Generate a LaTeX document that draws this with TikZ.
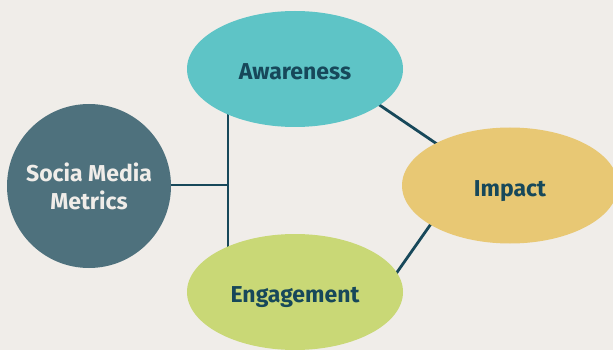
\documentclass[tikz,border=0pt]{standalone}
\usepackage{fontspec}
\setmainfont{Fira Sans}
\usetikzlibrary{shapes.geometric}
\definecolor{bg}{HTML}{F0EDE9}
\definecolor{hub}{HTML}{4E717D}
\definecolor{aware}{HTML}{5EC4C6}
\definecolor{impact}{HTML}{E8C874}
\definecolor{engage}{HTML}{C9D876}
\definecolor{ink}{HTML}{17485A}
\tikzset{
  blob/.style={ellipse, minimum width=216pt, minimum height=116pt, inner sep=0pt, text height=21pt, text depth=0pt, font=\fontsize{23}{26}\selectfont\bfseries, text=ink},
  link/.style={draw=ink, line width=2.8pt},
}
\begin{document}
\begin{tikzpicture}[x=1pt,y=-1pt]
\fill[bg] (0,0) rectangle (613,350);
\useasboundingbox (0,0) rectangle (613,350);
\coordinate (j) at (228,185);
\coordinate (jt) at (228,100);
\coordinate (jb) at (228,260);
\coordinate (ai) at (378,104);
\coordinate (ia) at (437,144);
\coordinate (ie) at (433,221);
\coordinate (ei) at (393,278);
\draw[link] (89,185) -- (j);
\draw[link] (jt) -- (jb);
\draw[link] (ai) -- (ia);
\draw[link] (ie) -- (ei);
\node[circle, fill=hub, minimum size=164pt, inner sep=0pt, text=bg, align=center, font=\fontsize{23}{28}\selectfont\bfseries] (hub) at (89,186) {Socia Media\\Metrics};
\node[blob, fill=aware] (aw) at (295,69) {Awareness};
\node[blob, fill=engage] (en) at (295,292) {Engagement};
\node[blob, fill=impact] (im) at (510,185.5) {Impact};
\end{tikzpicture}
\end{document}
